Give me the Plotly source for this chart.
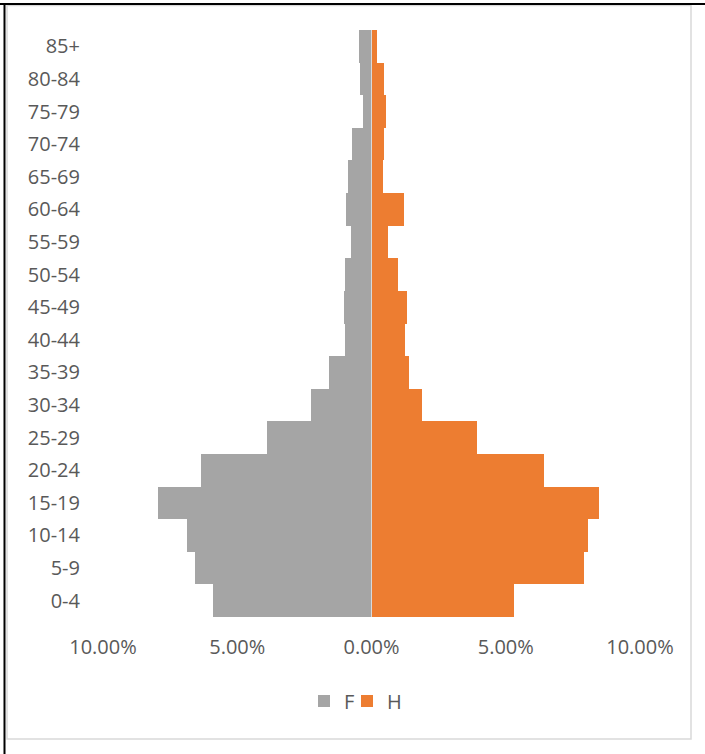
import plotly.graph_objects as go

ages = ["0-4", "5-9", "10-14", "15-19", "20-24", "25-29", "30-34", "35-39", "40-44",
        "45-49", "50-54", "55-59", "60-64", "65-69", "70-74", "75-79", "80-84", "85+"]
femmes = [5.89, 6.57, 6.86, 7.94, 6.35, 3.89, 2.27, 1.59, 0.97,
          1.03, 0.98, 0.77, 0.94, 0.88, 0.73, 0.33, 0.44, 0.48]
hommes = [5.31, 7.92, 8.07, 8.47, 6.44, 3.92, 1.87, 1.39, 1.23,
          1.33, 0.98, 0.62, 1.20, 0.41, 0.48, 0.55, 0.45, 0.22]
tick_vals = [-10, -5, 0, 5, 10]
tick_text = ["10.00%", "5.00%", "0.00%", "5.00%", "10.00%"]

W, H = 705, 754
L, R, T, B = 103, 640, 30, 617


def px(x):
    return (x - L) / (R - L)


def py(y):
    return (B - y) / (B - T)


fig = go.Figure()
fig.add_trace(go.Bar(y=ages, x=[-v for v in femmes], name="F", orientation="h",
                     marker=dict(color="#A5A5A5", line=dict(width=0)), legend="legend"))
fig.add_trace(go.Bar(y=ages, x=hommes, name="H", orientation="h",
                     marker=dict(color="#ED7D31", line=dict(width=0)), legend="legend2"))

font = dict(family="Open Sans", size=20, color="#595959")
legfont = dict(family="Open Sans", size=20, color="#595959")

fig.update_layout(
    width=W, height=H,
    margin=dict(l=L, r=W - R, t=T, b=H - B),
    barmode="overlay", bargap=0,
    plot_bgcolor="white", paper_bgcolor="white",
    font=font,
    showlegend=True,
    legend=dict(orientation="h", x=px(304), y=py(701), xanchor="left", yanchor="middle",
                font=legfont, itemwidth=30, bgcolor="rgba(0,0,0,0)"),
    legend2=dict(orientation="h", x=px(347), y=py(701), xanchor="left", yanchor="middle",
                 font=legfont, itemwidth=30, bgcolor="rgba(0,0,0,0)"),
    xaxis=dict(range=[-10, 10], tickvals=tick_vals, ticktext=tick_text,
               showgrid=False, zeroline=False, showline=False, ticks="",
               ticklabelstandoff=16, tickfont=font),
    yaxis=dict(showgrid=False, zeroline=False, showline=False, ticks="",
               ticklabelstandoff=22, tickfont=font, type="category"),
    shapes=[
        # vertical axis line at zero
        dict(type="line", xref="x", yref="paper", x0=0, x1=0, y0=0, y1=1,
             line=dict(color="#D9D9D9", width=1), layer="above"),
        # chart area border
        dict(type="rect", xref="paper", yref="paper", x0=px(7), x1=px(691), y0=py(5.5), y1=py(739),
             line=dict(color="#D9D9D9", width=1.5), layer="below"),
        # outer black frame lines
        dict(type="line", xref="paper", yref="paper", x0=px(0), x1=px(705), y0=py(4), y1=py(4),
             line=dict(color="black", width=2)),
        dict(type="line", xref="paper", yref="paper", x0=px(4.5), x1=px(4.5), y0=py(3), y1=py(754),
             line=dict(color="black", width=2)),
    ],
)

fig.write_html("out.html", config={"displayModeBar": False},
               post_script="document.body.style.margin='0px';")
